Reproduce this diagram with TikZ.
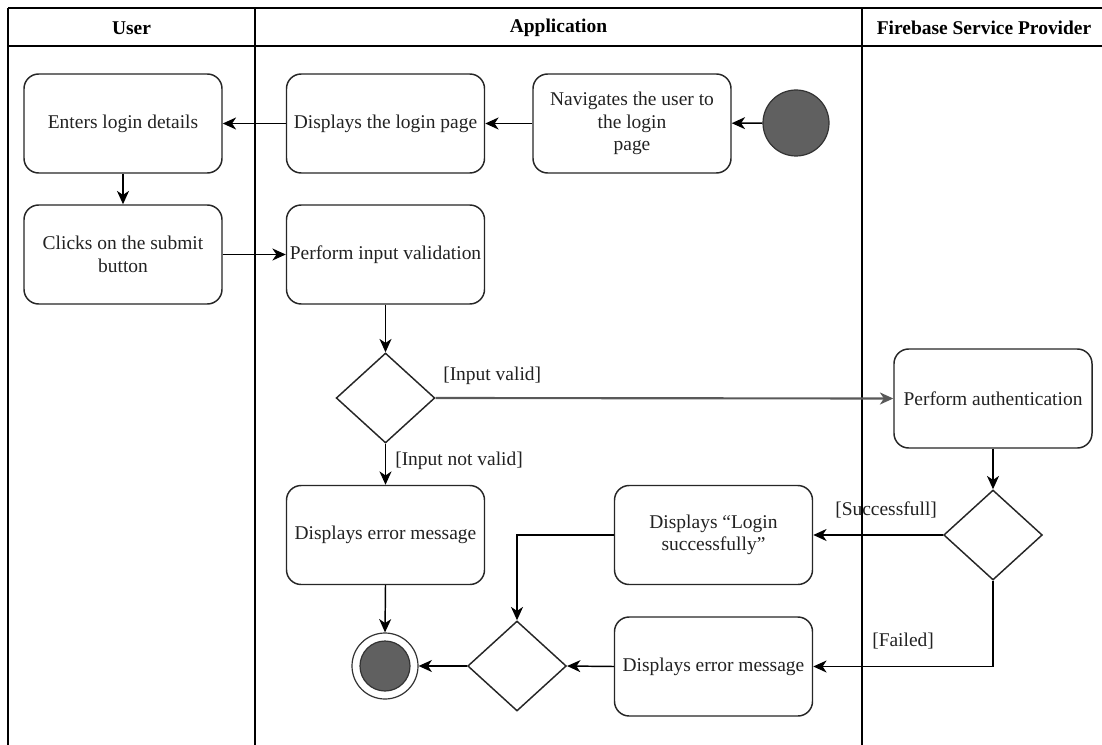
\documentclass[tikz,border=0pt]{standalone}
\usepackage{fontspec}
\setmainfont{Liberation Serif}
\usetikzlibrary{shapes.geometric,arrows.meta}
\definecolor{inkgray}{HTML}{222222}
\definecolor{dotfill}{HTML}{606060}
\begin{document}
\begin{tikzpicture}[x=0.75pt,y=-0.75pt,
  every node/.style={font=\fontsize{14.6pt}{17pt}\selectfont, text=inkgray},
  lane/.style={line width=1.1pt, draw=black},
  action/.style={draw=black!85, line width=1.1pt, rounded corners=11pt,
    minimum width=148.5pt, minimum height=74.25pt, inner sep=0pt,
    align=center, fill=white},
  choice/.style={diamond, draw=black!85, line width=1.1pt, fill=white,
    minimum width=74pt, minimum height=67.5pt, inner sep=0pt},
  dot/.style={circle, draw=black!80, line width=0.9pt, fill=dotfill, inner sep=0pt},
  flow/.style={line width=1.1pt, draw=black, -{Stealth[length=10pt,width=9pt,inset=3pt]}},
  guard/.style={inner sep=0pt, anchor=west},
  title/.style={font=\fontsize{14.6pt}{17pt}\selectfont\bfseries, text=black}
]
\useasboundingbox (0,0) rectangle (1102,745);

% swimlanes
\draw[lane] (8,8) -- (1102,8);
\draw[lane] (8,46) -- (1102,46);
\draw[lane] (8,8) -- (8,745);
\draw[lane] (255,8) -- (255,745);
\draw[lane] (862,8) -- (862,745);
\node[title] (hUser) at (131.5,28) {User};
\node[title] (hApp) at (558.5,28) {Application};
\node[title] (hFire) at (984,28) {Firebase Service Provider};

% actions
\node[action] (enter) at (123,123.5) {Enters login details};
\node[action] (show) at (385.5,123.5) {Displays the login page};
\node[action] (nav) at (632,123.5) {Navigates the user to\\the login\\page};
\node[dot, minimum size=49.5pt] (start) at (796,123) {};

\node[action] (click) at (123,254.5) {Clicks on the submit\\button};
\node[action] (valid) at (385.5,254.5) {Perform input validation};

\node[choice] (d1) at (385.5,398) {};
\node[action] (auth) at (993,398.5) {Perform authentication};

\node[choice] (d2) at (993,535) {};
\node[action] (succ) at (713.5,535) {Displays “Login\\successfully”};
\node[action] (err1) at (385.5,535) {Displays error message};

\node[action] (err2) at (713.5,666.5) {Displays error message};
\node[choice] (merge) at (517,666) {};

\node[circle, draw=black!80, line width=0.9pt, fill=white, minimum size=49.5pt, inner sep=0pt] (end) at (385,666) {};
\node[dot, minimum size=37.5pt] (endcore) at (end) {};

% flows
\draw[flow] (start) -- (nav);
\draw[flow] (nav) -- (show);
\draw[flow] (show) -- (enter);
\draw[flow] (enter) -- (click);
\draw[flow] (click) -- (valid);
\draw[flow] (valid) -- (d1);
\draw[flow, draw=black!65, line width=1.6pt] (d1.east) -- (auth.west);
\draw[flow] (d1.south) -- (err1.north);
\draw[flow] (auth) -- (d2);
\draw[flow] (d2.west) -- (succ.east);
\draw[flow] (d2.south) |- (err2.east);
\draw[flow] (succ.west) -| (merge.north);
\draw[flow] (err2.west) -- (merge.east);
\draw[flow] (merge.west) -- (end.east);
\draw[flow] (err1.south) -- (end.north);

% guards
\node[guard] (gValid) at (443,376) {[Input valid]};
\node[guard] (gInvalid) at (395,461) {[Input not valid]};
\node[guard] (gOk) at (835,510) {[Successfull]};
\node[guard] (gFail) at (872,641) {[Failed]};
\end{tikzpicture}
\end{document}
